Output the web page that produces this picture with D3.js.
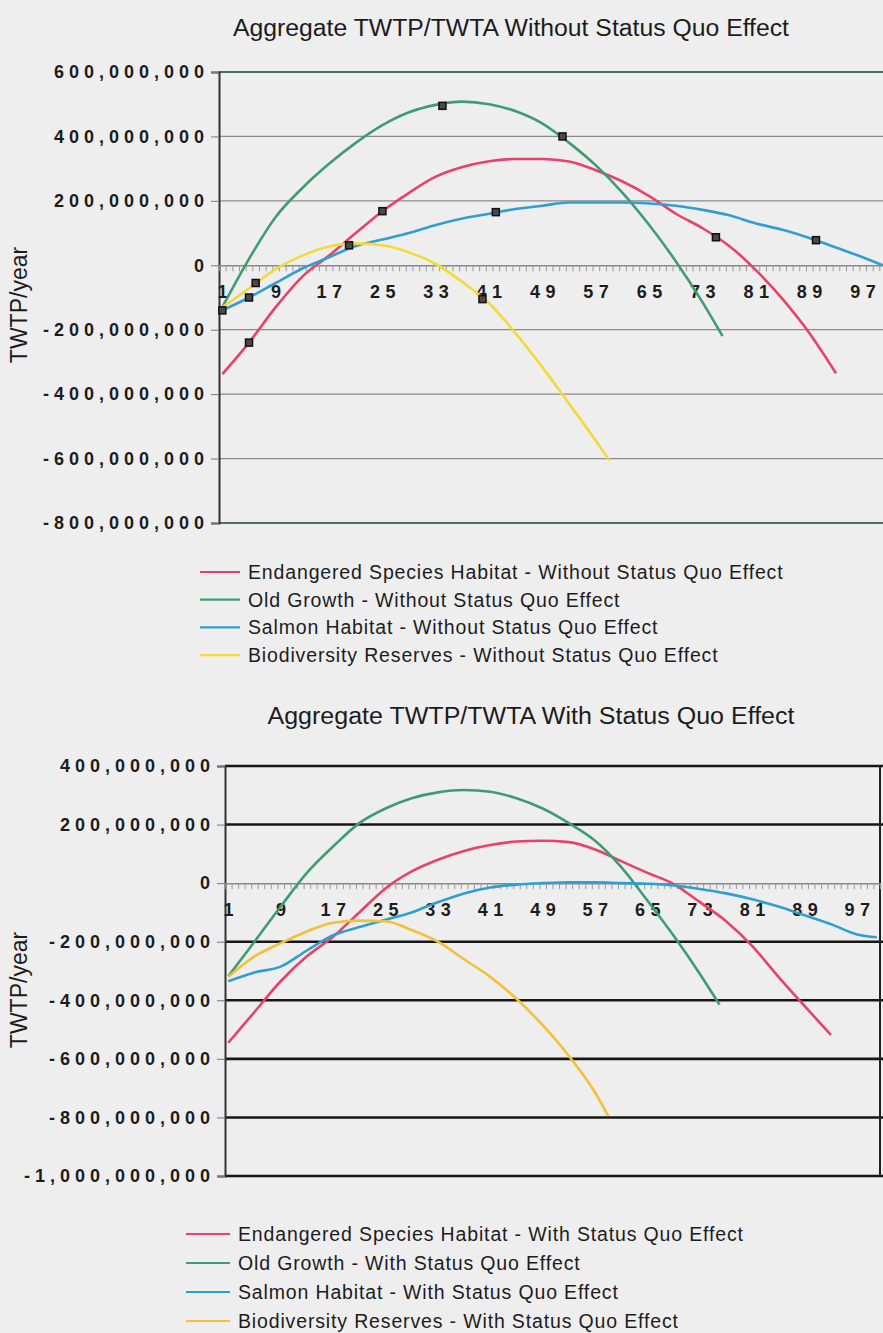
<!DOCTYPE html>
<html>
<head>
<meta charset="utf-8">
<script src="https://d3js.org/d3.v7.min.js"></script>
<style>
  body { margin: 0; background: #efeeef; }
  svg { display: block; }
  text { font-family: "Liberation Sans", Arial, Helvetica, sans-serif; fill: #1c1c1c; }
</style>
</head>
<body>
<svg id="chart" width="883" height="1333"></svg>
<script>
// values in millions of TWTP/year as [period, value]
const endangeredNoSQ = [[1,-338],[5,-240],[9,-130],[13,-35],[17,30],[21,100],[25,168],[29,225],[33,275],[37,305],[41,323],[45,330],[49,330],[53,322],[57,295],[61,260],[65,215],[69,160],[73,115],[77,60],[81,-15],[85,-105],[89,-210],[93,-335]];
const oldGrowthNoSQ = [[1,-130],[5,20],[9,150],[13,240],[17,315],[21,380],[25,435],[29,475],[33,498],[37,508],[41,500],[45,478],[49,440],[53,380],[57,310],[61,225],[65,125],[69,12],[73,-115],[76,-220]];
const salmonNoSQ = [[1,-140],[5,-100],[9,-55],[13,-10],[17,25],[21,60],[25,80],[29,100],[33,125],[37,145],[41,160],[45,175],[49,185],[53,195],[57,195],[61,195],[65,192],[69,185],[73,172],[77,155],[81,130],[85,110],[89,85],[93,55],[97,25],[100,0]];
const biodivNoSQ = [[1,-130],[5,-72],[9,-12],[13,30],[17,58],[21,68],[25,62],[29,40],[33,4],[37,-52],[41,-118],[45,-212],[49,-317],[53,-430],[57,-545],[59,-605]];

const endangeredSQ = [[1,-545],[5,-440],[9,-335],[13,-250],[17,-183],[21,-100],[25,-18],[29,40],[33,80],[37,110],[41,130],[45,142],[49,145],[53,140],[57,115],[61,75],[65,35],[69,-3],[73,-65],[77,-130],[81,-215],[85,-320],[89,-420],[93,-518]];
const oldGrowthSQ = [[1,-318],[5,-200],[9,-80],[13,35],[17,125],[21,205],[25,255],[29,290],[33,310],[37,318],[41,312],[45,290],[49,255],[53,205],[57,145],[61,55],[65,-60],[69,-180],[73,-310],[76,-415]];
const salmonSQ = [[1,-335],[5,-305],[9,-285],[13,-230],[17,-178],[21,-150],[25,-125],[29,-100],[33,-65],[37,-35],[41,-15],[45,-5],[49,0],[53,3],[57,3],[61,0],[65,-2],[69,-8],[73,-20],[77,-35],[81,-55],[85,-80],[89,-110],[93,-140],[97,-175],[100,-185]];
const biodivSQ = [[1,-320],[5,-250],[9,-205],[13,-165],[17,-135],[21,-128],[25,-130],[29,-160],[33,-200],[37,-260],[41,-320],[45,-395],[49,-485],[53,-590],[57,-715],[59,-795]];

// square markers seen on the top chart: [period, value]
const markersNoSQ = [[1,-140],[5,-100],[6,-55],[5,-240],[20,62],[25,168],[34,495],[40,-105],[42,165],[52,400],[75,87],[90,78]];

const xTickLabels = [1,9,17,25,33,41,49,57,65,73,81,89,97];
const yTicksNoSQ = [600,400,200,0,-200,-400,-600,-800];
const yTicksSQ = [400,200,0,-200,-400,-600,-800,-1000];

const seriesNames = ["Endangered Species Habitat", "Old Growth", "Salmon Habitat", "Biodiversity Reserves"];
const colorsNoSQ = ["#e8416a", "#3f9b73", "#2f9fd3", "#f1da3a"];
const colorsSQ = ["#e8416a", "#3f9b73", "#2f9fd3", "#f2c136"];

const svg = d3.select("#chart");
const fmt = d => d === 0 ? "0" : d3.format(",")(d * 1e6).replace("−", "-");

function drawChart(cfg) {
  const x = d3.scaleLinear().domain([0.5, 100.5]).range([cfg.left, cfg.right]);
  const y = d3.scaleLinear().domain(cfg.domain).range([cfg.bottom, cfg.top]);
  const g = svg.append("g");

  // title
  g.append("text").attr("x", cfg.titleX).attr("y", cfg.titleY)
    .attr("text-anchor", "middle").attr("font-size", 23)
    .attr("textLength", cfg.titleLen).attr("lengthAdjust", "spacingAndGlyphs")
    .text(cfg.title);

  // horizontal gridlines
  g.append("g").selectAll("line").data(cfg.yTicks.filter(v => v !== 0)).join("line")
    .attr("x1", cfg.left).attr("x2", cfg.right + 10)
    .attr("y1", d => y(d)).attr("y2", d => y(d))
    .attr("stroke", d => (d === cfg.domain[1] || d === cfg.domain[0]) ? cfg.borderColor : cfg.gridColor)
    .attr("stroke-width", d => (d === cfg.domain[1] || d === cfg.domain[0]) ? cfg.borderWidth : cfg.gridWidth);

  if (cfg.rightBorder) {
    g.append("line").attr("x1", cfg.right).attr("x2", cfg.right)
      .attr("y1", cfg.top).attr("y2", cfg.bottom)
      .attr("stroke", "#222").attr("stroke-width", 2);
  }

  // y axis
  const yAxis = g.append("g").attr("transform", `translate(${cfg.left},0)`)
    .call(d3.axisLeft(y).tickValues(cfg.yTicks).tickFormat(fmt).tickSize(8).tickPadding(2));
  yAxis.select(".domain").attr("stroke", "#333").attr("stroke-width", 2);
  yAxis.selectAll(".tick line").attr("stroke", "#777");
  yAxis.selectAll("text").attr("font-size", 18).attr("font-weight", "bold").attr("letter-spacing", 5)
    .attr("fill", "#2a2a2a").style("font-family", "'Liberation Sans', Arial, sans-serif");

  // zero axis with category ticks
  const zx = g.append("g").attr("transform", `translate(0,${y(0)})`)
    .call(d3.axisBottom(x).tickValues(d3.range(1, 101).map(v => v + 0.5)).tickFormat("").tickSize(6));
  zx.select(".domain").attr("stroke", "#888").attr("stroke-width", 1.5);
  zx.selectAll(".tick line").attr("stroke", "#999");
  g.append("g").selectAll("text").data(xTickLabels).join("text")
    .attr("x", d => x(d) + 3).attr("y", y(0) + 33)
    .attr("text-anchor", "middle").attr("font-size", 18).attr("font-weight", "bold")
    .attr("letter-spacing", 5.5).attr("fill", "#2a2a2a")
    .text(d => d);

  // y axis title
  g.append("text").attr("transform", `translate(${cfg.yTitleX},${cfg.yTitleY}) rotate(-90)`)
    .attr("text-anchor", "middle").attr("font-size", 23).text("TWTP/year");

  // series
  const line = d3.line().x(d => x(d[0])).y(d => y(d[1])).curve(d3.curveMonotoneX);
  g.append("g").selectAll("path").data(cfg.series).join("path")
    .attr("d", d => line(d)).attr("fill", "none")
    .attr("stroke", (d, i) => cfg.colors[i]).attr("stroke-width", 2.6);

  if (cfg.markers) {
    g.append("g").selectAll("rect").data(cfg.markers).join("rect")
      .attr("x", d => x(d[0]) - 3.5).attr("y", d => y(d[1]) - 3.5)
      .attr("width", 7).attr("height", 7)
      .attr("fill", "#4a4a4a").attr("stroke", "#111").attr("stroke-width", 1.5);
  }

  // legend
  const lg = g.append("g").selectAll("g").data(seriesNames).join("g")
    .attr("transform", (d, i) => `translate(${cfg.legendX},${cfg.legendY + i * cfg.legendStep})`);
  lg.append("line").attr("x1", 0).attr("x2", cfg.legendLine)
    .attr("stroke", (d, i) => cfg.colors[i]).attr("stroke-width", 2.2);
  lg.append("text").attr("x", cfg.legendLine + 8).attr("y", 7).attr("font-size", 19.5)
    .attr("letter-spacing", 0.85)
    .text(d => `${d} - ${cfg.suffix}`);
}

drawChart({
  title: "Aggregate TWTP/TWTA Without Status Quo Effect", titleX: 511, titleY: 36, titleLen: 556,
  left: 219, right: 886, top: 72, bottom: 523, domain: [-800, 600],
  yTicks: yTicksNoSQ, gridColor: "#8a8a8a", gridWidth: 1.2, borderColor: "#4d6d66", borderWidth: 2,
  rightBorder: false, yTitleX: 27, yTitleY: 305,
  series: [endangeredNoSQ, oldGrowthNoSQ, salmonNoSQ, biodivNoSQ], colors: colorsNoSQ,
  markers: markersNoSQ,
  legendX: 200, legendY: 572, legendStep: 27.7, legendLine: 40, suffix: "Without Status Quo Effect"
});

drawChart({
  title: "Aggregate TWTP/TWTA With Status Quo Effect", titleX: 531, titleY: 724, titleLen: 527,
  left: 225, right: 880, top: 766, bottom: 1176, domain: [-1000, 400],
  yTicks: yTicksSQ, gridColor: "#161616", gridWidth: 2.6, borderColor: "#161616", borderWidth: 2.4,
  rightBorder: true, yTitleX: 27, yTitleY: 990,
  series: [endangeredSQ, oldGrowthSQ, salmonSQ, biodivSQ], colors: colorsSQ,
  markers: null,
  legendX: 186, legendY: 1234, legendStep: 29, legendLine: 44, suffix: "With Status Quo Effect"
});
</script>
</body>
</html>
